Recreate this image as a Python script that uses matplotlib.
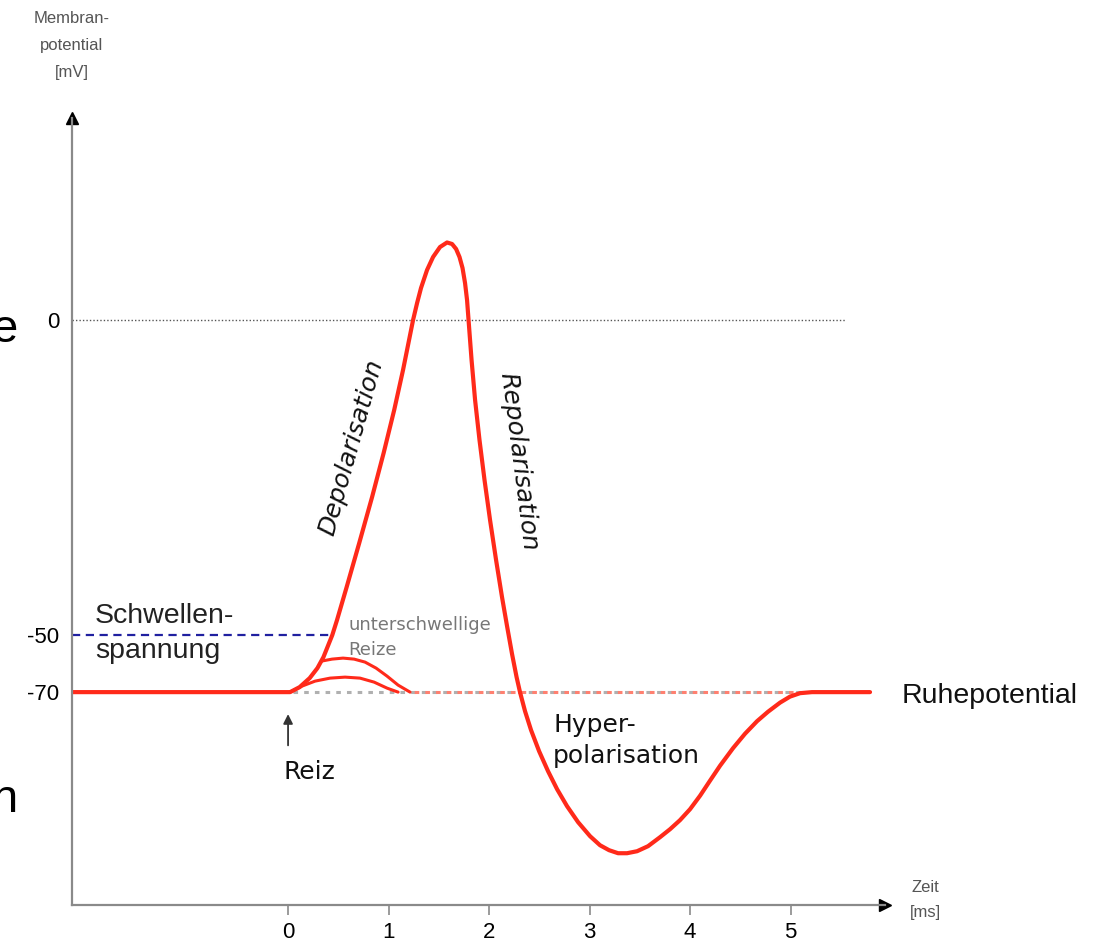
import numpy as np
import matplotlib.pyplot as plt

plt.rcParams['font.family'] = ['Liberation Sans', 'DejaVu Sans']
plt.rcParams['axes.unicode_minus'] = False

# action potential (time in ms, membrane potential in mV)
t_ap = [-2.15, 0.0, 0.02, 0.115, 0.215, 0.292, 0.352, 0.440, 0.487, 0.583, 0.708,
        0.836, 0.951, 1.056, 1.144, 1.194, 1.244, 1.284, 1.323, 1.383, 1.443, 1.512,
        1.582, 1.632, 1.672, 1.706, 1.736, 1.761, 1.781, 1.796, 1.826, 1.861, 1.905,
        1.955, 2.010, 2.070, 2.129, 2.179, 2.229, 2.274, 2.308, 2.358, 2.418, 2.498,
        2.587, 2.677, 2.776, 2.886, 3.005, 3.104, 3.194, 3.284, 3.373, 3.473, 3.582,
        3.701, 3.801, 3.900, 4.000, 4.100, 4.199, 4.299, 4.428, 4.547, 4.667, 4.776,
        4.896, 4.995, 5.095, 5.214, 5.791]
v_ap = [-70, -70, -70, -68.25, -65.09, -61.58, -57.72, -50, -47.62, -42.38, -35.40,
        -28.10, -21.11, -14.29, -7.94, -3.97, 0, 2.69, 5.07, 7.92, 9.98, 11.56,
        12.28, 12.04, 11.25, 9.98, 8.24, 5.86, 3.17, 0, -6.35, -12.70, -19.05,
        -25.40, -31.75, -38.10, -43.97, -48.57, -56.67, -64.74, -70, -72.38, -74.75, -77.38,
        -79.88, -82.13, -84.25, -86.25, -88.0, -89.13, -89.75, -90.13, -90.13, -89.88, -89.25,
        -88.13, -87.13, -86.0, -84.63, -82.94, -81.06, -79.19, -77.0, -75.2, -73.63, -72.45,
        -71.31, -70.56, -70.13, -70, -70]

# subthreshold stimuli ("unterschwellige Reize")
t_sub1 = [0.333, 0.438, 0.547, 0.657, 0.766, 0.876, 0.985, 1.095, 1.214]
v_sub1 = [-59.12, -58.42, -58.07, -58.42, -59.47, -61.58, -64.39, -67.54, -70]
t_sub2 = [0.02, 0.139, 0.269, 0.418, 0.567, 0.716, 0.856, 0.985, 1.095]
v_sub2 = [-70, -67.89, -66.14, -65.09, -64.74, -65.09, -66.49, -68.60, -70]

x_ticks = [0, 1, 2, 3, 4, 5]
y_ticks = [-70, -50, 0]
rest = -70
threshold = -50

# schematic (non-linear) voltage axis
v_k = [-200, -70, -50, 0, 200]
p_k = [-827, 213, 270, 585, 1847]


def fwd(v):
    return np.interp(v, v_k, p_k)


def inv(p):
    return np.interp(p, p_k, v_k)


fig = plt.figure(figsize=(10.99, 9.44), dpi=100)
ax = fig.add_axes([72 / 1099, 39 / 944, 813 / 1099, 787 / 944])
ax.set_yscale('function', functions=(fwd, inv))
ax.set_xlim(-2.15, 5.94)
ax.set_ylim(-96.6, 32)

red = '#ff2a1a'
ax.plot([-2.15, 5.54], [0, 0], color='#555555', lw=1, ls=(0, (1, 1.5)))
ax.plot([-2.15, 0.44], [threshold, threshold], color='#2020a0', lw=1.6, ls=(0, (3.7, 2.5)))
ax.plot([0.05, 5.1], [rest, rest], color='#b0b0b0', lw=2.2, ls=(0, (1.5, 2)))
ax.plot([1.2, 5.1], [rest, rest], color='#ff8070', lw=2.2, ls=(1.8, (1.5, 2)))
ax.plot(t_sub1, v_sub1, color=red, lw=2.2, solid_capstyle='round', solid_joinstyle='round')
ax.plot(t_sub2, v_sub2, color=red, lw=2.2, solid_capstyle='round', solid_joinstyle='round')
ax.plot(t_ap, v_ap, color=red, lw=3, solid_joinstyle='round', solid_capstyle='round')

for s in ['top', 'right']:
    ax.spines[s].set_visible(False)
for s in ['left', 'bottom']:
    ax.spines[s].set_color('#8a8a8a')
    ax.spines[s].set_linewidth(1.6)
ax.plot([0], [1], marker='^', ms=9, color='black', transform=ax.transAxes, clip_on=False)
ax.plot([1], [0], marker='>', ms=9, color='black', transform=ax.transAxes, clip_on=False)

ax.set_xticks(x_ticks)
ax.set_yticks(y_ticks)
ax.minorticks_off()
ax.tick_params(axis='x', length=7, width=1.2, color='#8a8a8a', labelsize=16, pad=5)
ax.tick_params(axis='y', length=0, labelsize=16, pad=9)

fig.text(72 / 1099, 1 - 11 / 944, 'Membran-\npotential\n[mV]', ha='center', va='top',
         fontsize=12, color='#555555', linespacing=2.0)
fig.text(925 / 1099, 1 - 900 / 944, 'Zeit\n[ms]', ha='center', va='center',
         fontsize=12, color='#555555', linespacing=1.8)

ax.text(-1.92, -48.1, 'Schwellen-', fontsize=20.5, color='#222222', va='baseline')
ax.text(-1.92, -58.0, 'spannung', fontsize=20.5, color='#222222', va='baseline')
ax.text(0.60, -49.2, 'unterschwellige', fontsize=13, color='#777777', va='baseline',
        family='DejaVu Sans')
ax.text(0.60, -57.0, 'Reize', fontsize=13, color='#777777', va='baseline', family='DejaVu Sans')
ax.text(0.633, -20.24, 'Depolarisation', fontsize=18, style='oblique', rotation=74.3,
        ha='center', va='center', rotation_mode='anchor', color='#111111', family='DejaVu Sans')
ax.text(2.292, -22.49, 'Repolarisation', fontsize=18, style='oblique', rotation=-82.7,
        ha='center', va='center', rotation_mode='anchor', color='#111111', family='DejaVu Sans')
ax.text(2.637, -75.0, 'Hyper-', fontsize=18, va='baseline', color='#111111', family='DejaVu Sans')
ax.text(2.637, -78.9, 'polarisation', fontsize=18, va='baseline', color='#111111',
        family='DejaVu Sans')
ax.text(6.106, -71.4, 'Ruhepotential', fontsize=20.5, va='baseline', color='#111111')
ax.text(-0.05, -80.9, 'Reiz', fontsize=18, va='baseline', color='#111111', family='DejaVu Sans')
ax.annotate('', xy=(0.0, -72.4), xytext=(0.0, -77.0),
            arrowprops=dict(arrowstyle='-|>', color='#333333', lw=1.3, mutation_scale=14))

# cut-off letters at the left edge of the original picture
fig.text(-8 / 1099, 1 - 330 / 944, 'e', fontsize=34, va='center', ha='left')
fig.text(-8 / 1099, 1 - 800 / 944, 'n', fontsize=34, va='center', ha='left')

plt.savefig('out.png', dpi=100)
